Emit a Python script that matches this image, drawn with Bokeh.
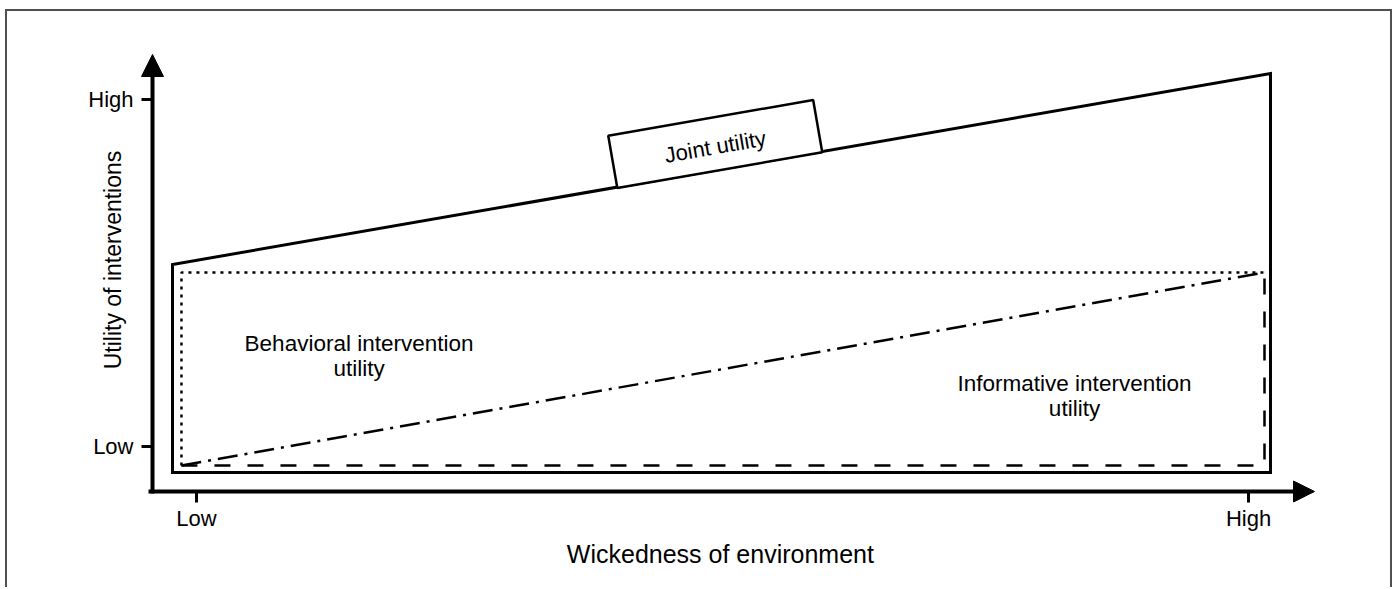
import math
from bokeh.plotting import figure
from bokeh.models import Range1d, FixedTicker, Arrow, NormalHead, Label
from bokeh.embed import file_html
from bokeh.resources import INLINE
from bokeh.core.properties import value

# ---- axis categories -------------------------------------------------
x_tick_values = [0, 1]
x_tick_labels = ["Low", "High"]
y_tick_values = [0, 1]
y_tick_labels = ["Low", "High"]
x_title = "Wickedness of environment"
y_title = "Utility of interventions"

# ---- conceptual curves (Low = 0, High = 1) ---------------------------
# joint utility envelope (solid outline)
joint_x = [-0.0228, -0.0228, 1.0209, 1.0209]
joint_y = [-0.0749, 0.5245, 1.0749, -0.0749]
# behavioral intervention utility (dotted)
behav_x = [-0.0143, -0.0143, 1.0162]
behav_y = [-0.0548, 0.5014, 0.5014]
# informative intervention utility (dashed)
inform_x = [-0.0143, 1.0152, 1.0152]
inform_y = [-0.0548, -0.0548, 0.5014]
# boundary between the two (dash-dot)
split_x = [-0.0143, 1.0152]
split_y = [-0.0548, 0.5014]

# ---- annotations -----------------------------------------------------
joint_label = "Joint utility"
joint_label_x = [0.4931]
joint_label_y = [0.8718]
joint_text_y = [0.8640]
behav_label = "Behavioral intervention\nutility"
behav_label_x = [0.1545]
behav_label_y = [0.2594]
inform_label = "Informative intervention\nutility"
inform_label_x = [0.8346]
inform_label_y = [0.1455]

FONT = "Liberation Sans"

# data window (whole canvas is the frame)
X_RANGE = (-0.17966, 1.13878)
Y_RANGE = (-0.41210, 1.25360)
# axis placement and arrow geometry (data units)
Y_AXIS_X = -0.04183
X_AXIS_Y = -0.12968
Y_AXIS_BOUNDS = (-0.13545, 1.0780)
X_AXIS_BOUNDS = (-0.04563, 1.0457)
Y_ARROW_TIP = 1.12968
X_ARROW_TIP = 1.06274

p = figure(
    width=1387, height=578,
    x_range=Range1d(*X_RANGE), y_range=Range1d(*Y_RANGE),
    output_backend="svg", toolbar_location=None,
    min_border=0, min_border_left=0, min_border_right=0,
    min_border_top=0, min_border_bottom=0,
)
p.styles = {
    "margin-left": "5px",
    "margin-top": "9px",
    "border-top": "2px solid #505050",
    "border-left": "2px solid #505050",
    "border-right": "2px solid #505050",
}
p.outline_line_color = None
p.xgrid.visible = False
p.ygrid.visible = False
p.background_fill_color = "white"
p.border_fill_color = "white"

for ax, vals, labs in ((p.xaxis, x_tick_values, x_tick_labels),
                       (p.yaxis, y_tick_values, y_tick_labels)):
    ax.ticker = FixedTicker(ticks=vals)
    ax.major_label_overrides = {v: l for v, l in zip(vals, labs)}
    ax.axis_line_color = "black"
    ax.axis_line_width = 4
    ax.minor_tick_line_color = None
    ax.major_tick_line_color = "black"
    ax.major_tick_line_width = 3
    ax.major_tick_in = 0
    ax.major_tick_out = 11
    ax.major_label_text_font = FONT
    ax.major_label_text_font_size = "22px"
    ax.major_label_text_color = "black"
p.xaxis.fixed_location = X_AXIS_Y
p.yaxis.fixed_location = Y_AXIS_X
p.xaxis.bounds = X_AXIS_BOUNDS
p.yaxis.bounds = Y_AXIS_BOUNDS
p.xaxis.major_label_standoff = 4
p.yaxis.major_label_standoff = 8

# arrow heads at the ends of the axes
p.add_layout(Arrow(
    end=NormalHead(size=22, fill_color="black", line_color="black", line_width=1),
    x_start=Y_AXIS_X, y_start=Y_AXIS_BOUNDS[1], x_end=Y_AXIS_X, y_end=Y_ARROW_TIP,
    line_width=4, line_color="black", line_alpha=0))
p.add_layout(Arrow(
    end=NormalHead(size=21, fill_color="black", line_color="black", line_width=1),
    x_start=X_AXIS_BOUNDS[1], y_start=X_AXIS_Y, x_end=X_ARROW_TIP, y_end=X_AXIS_Y,
    line_width=4, line_color="black", line_alpha=0))

# curves
p.line(behav_x, behav_y, line_color="black", line_width=2.5, line_dash="3 5")
p.line(inform_x, inform_y, line_color="black", line_width=2.5, line_dash="16 17")
p.line(split_x, split_y, line_color="black", line_width=2.5, line_dash="20 7 3 7")
p.patch(joint_x, joint_y, fill_color=None, line_color="black", line_width=3,
        line_join="miter")

# joint utility box sitting on the envelope
angle = math.atan(((joint_y[2] - joint_y[1]) * 347) / ((joint_x[2] - joint_x[1]) * 1052))
p.rect(joint_label_x, joint_label_y, width=208, height=53,
       width_units="screen", height_units="screen", angle=angle,
       fill_color="white", line_color="black", line_width=2.5)
p.text(joint_label_x, joint_text_y, text=[joint_label], angle=angle,
       text_align="center", text_baseline="middle",
       text_font=value(FONT), text_font_size="22px", text_color="black")

p.text(behav_label_x, behav_label_y, text=[behav_label],
       text_align="center", text_baseline="middle", text_line_height=1.0,
       text_font=value(FONT), text_font_size="22.5px", text_color="black")
p.text(inform_label_x, inform_label_y, text=[inform_label],
       text_align="center", text_baseline="middle", text_line_height=1.0,
       text_font=value(FONT), text_font_size="22.5px", text_color="black")

# axis titles
p.add_layout(Label(x=0.498, y=-0.3084, text=x_title, text_align="center",
                   text_baseline="alphabetic", text_font=FONT,
                   text_font_size="25px", text_color="black"))
p.add_layout(Label(x=-0.0789, y=0.5375, text=y_title, angle=math.pi / 2,
                   text_align="center", text_baseline="alphabetic",
                   text_font=FONT, text_font_size="23px", text_color="black"))

open("out.html", "w").write(file_html(p, INLINE))
